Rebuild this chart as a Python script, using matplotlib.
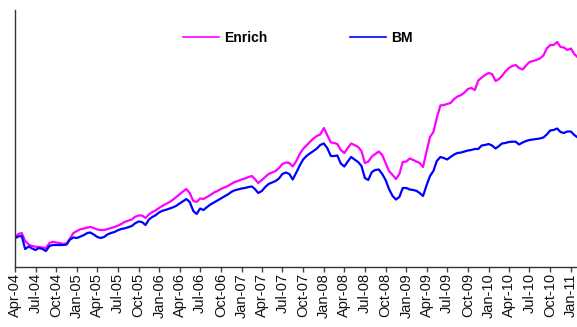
import matplotlib
matplotlib.use("Agg")
import matplotlib.pyplot as plt
import pandas as pd

plt.rcParams['font.family'] = ['Liberation Sans', 'DejaVu Sans']

series_names = ["Enrich", "BM"]

# semi-monthly readings (1st and 16th of each month), Apr-2004 .. Jan-2011
enrich = [
    100, 103.5, 104.5, 96.5, 93, 91.5, 90.8, 90.5, 90, 89.5, 94.5, 95.8,
    95, 94.5, 93.5, 94, 99, 104.5, 106.5, 108.2, 109, 110, 110.5, 109.5,
    108, 107.5, 107.5, 108.5, 109.5, 110.5, 111.8, 113.5, 115.7, 116.8, 118, 120.8,
    122, 122, 119.5, 123, 125.5, 127.2, 129.7, 131.8, 133.7, 135.5, 137.5, 140.2,
    143.2, 146, 148.5, 144.5, 136.5, 135.5, 139, 138.5, 140.5, 142.5, 145, 146.5,
    148.5, 150, 151.5, 153.5, 155.5, 156.5, 158, 159, 160.5, 161.5, 158.5, 154.5,
    157.5, 160.5, 163.5, 165, 166.5, 169.5, 173.5, 175, 174.5, 171, 176.5, 183.5,
    188.5, 192, 195.8, 199, 201.5, 203, 209.5, 202.5, 195, 194.5, 193.5, 187.5,
    184.5, 189.5, 194, 192.5, 190.5, 186.5, 174.5, 175.8, 181, 183.5, 186, 182.5,
    174.5, 166.5, 162.5, 158.5, 163.5, 175.5, 176, 179, 177.5, 175.8, 174.5, 170.5,
    186.5, 200.5, 205.5, 219.5, 232, 232.5, 233.5, 234.5, 238.5, 241, 242.5, 245,
    248.5, 249.5, 247.5, 257, 260, 262.5, 264.5, 263.5, 256.5, 258.5, 261.5, 266,
    269.5, 271.5, 272.5, 269.5, 268, 272, 275.5, 276.5, 277.5, 279, 282, 289,
    292.5, 292.5, 295.5, 290.5, 290, 287.5, 289, 283.5, 280.8,
]

bm = [
    99.2, 101, 101.5, 88.5, 91, 89, 87.5, 89.5, 88.5, 86.5, 91.5, 92.5,
    92.5, 92.5, 92.5, 93, 98, 100, 99.5, 101, 102.5, 104.5, 105, 103,
    100.5, 99.5, 100.5, 103, 104.5, 105.5, 107.2, 108.5, 109.2, 110.2, 111.5, 114.2,
    116, 115.5, 112.5, 118, 120.5, 122.3, 125.2, 126.8, 127.8, 129, 130, 131.5,
    133.9, 136.2, 138.5, 135.5, 126.5, 123.5, 129, 127.5, 130.5, 133, 135, 137,
    139, 141, 143, 145.5, 147.2, 148, 149, 149.5, 150.5, 151, 148.5, 144.5,
    146.5, 150.5, 153.5, 155, 156.5, 159, 163.5, 165, 163.5, 158, 165, 172,
    178, 181.5, 184.2, 186.5, 189, 192.5, 194, 189.5, 181.5, 181.5, 182, 174,
    171, 176, 180.5, 178, 175.5, 171.5, 159.5, 157.5, 165.5, 167.5, 168, 163.5,
    157.5, 148.5, 141.5, 138, 140.5, 149.5, 149.5, 148, 147.5, 146.5, 144.5, 141.5,
    152.5, 161.5, 166.5, 176.5, 180.5, 179.5, 178, 180.5, 183, 184.5, 185, 186,
    187, 187.5, 188.5, 188.5, 192, 192.5, 193.5, 192, 189, 191.5, 194, 194.5,
    195.5, 195.8, 195.8, 193, 195, 196.5, 197.5, 198, 198.5, 199, 200, 203,
    207, 207.5, 209, 205.5, 204.5, 206, 206, 202.5, 200.5,
]

start_date = "2004-04-01"
end_date = "2011-01-28"

start = pd.Timestamp(start_date)
dates = []
for i in range(len(enrich) - 1):
    d = start + pd.DateOffset(months=i // 2)
    if i % 2 == 1:
        d = d + pd.Timedelta(days=15)
    dates.append(d)
dates.append(pd.Timestamp(end_date))

tick_dates = pd.date_range("2004-04-01", "2011-01-01", freq="3MS")
tick_labels = [d.strftime("%b-%y") for d in tick_dates]

fig = plt.figure(figsize=(5.77, 3.27), dpi=100)
ax = fig.add_axes([15 / 577, (327 - 266.7) / 327, 1 - 15 / 577, (266.7 - 10) / 327])

l1, = ax.plot(dates, enrich, color="#FF00FF", lw=1.6, label=series_names[0])
l2, = ax.plot(dates, bm, color="#0000FF", lw=1.6, label=series_names[1])

ax.set_xlim(pd.Timestamp(start_date), pd.Timestamp(end_date))
ax.set_ylim(70.8, 327.5)

ax.set_xticks(tick_dates)
ax.set_xticklabels(tick_labels, rotation=90, fontsize=10.5, color="#111111")
ax.tick_params(axis="x", direction="out", length=3.6, width=1, color="#444444", pad=1)
ax.set_yticks([])

for s in ["top", "right"]:
    ax.spines[s].set_visible(False)
for s in ["left", "bottom"]:
    ax.spines[s].set_color("#333333")
    ax.spines[s].set_linewidth(1)

leg = fig.legend(handles=[l1, l2], loc="center", bbox_to_anchor=(0.516, 0.883),
                 ncol=2, frameon=False, prop={"weight": "bold", "size": 10},
                 handlelength=2.6, handletextpad=0.35, columnspacing=6.0)
for h in leg.get_lines():
    h.set_linewidth(1.2)

fig.savefig("out.png", dpi=100)
